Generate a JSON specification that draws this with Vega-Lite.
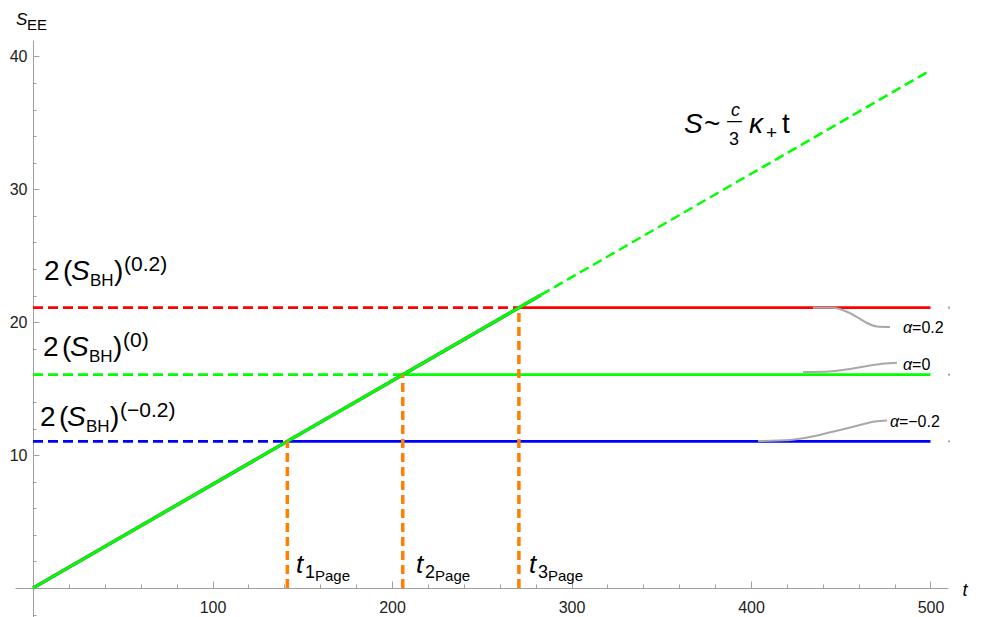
{
  "$schema": "https://vega.github.io/schema/vega-lite/v6.json",
  "width": 933,
  "height": 577,
  "autosize": {"type": "none"},
  "padding": {"left": 15, "top": 40, "right": 35, "bottom": 0},
  "background": "white",
  "config": {"view": {"stroke": null}, "font": "Liberation Sans", "text": {"font": "Liberation Sans", "color": "#000000"}},
  "resolve": {"axis": {"x": "independent", "y": "independent"}},
  "datasets": {
    "levels": [
      {"level": "0.2", "seg": "r-a", "part": "dashed", "t": 0, "S": 21.09},
      {"level": "0.2", "seg": "r-a", "part": "dashed", "t": 270.7, "S": 21.09},
      {"level": "0.2", "seg": "r-b", "part": "solid", "t": 270.7, "S": 21.09},
      {"level": "0.2", "seg": "r-b", "part": "solid", "t": 500, "S": 21.09},
      {"level": "0", "seg": "g-a", "part": "dashed", "t": 0, "S": 16.05},
      {"level": "0", "seg": "g-a", "part": "dashed", "t": 206.0, "S": 16.05},
      {"level": "0", "seg": "g-b", "part": "solid", "t": 206.0, "S": 16.05},
      {"level": "0", "seg": "g-b", "part": "solid", "t": 500, "S": 16.05},
      {"level": "-0.2", "seg": "b-a", "part": "dashed", "t": 0, "S": 11.04},
      {"level": "-0.2", "seg": "b-a", "part": "dashed", "t": 141.7, "S": 11.04},
      {"level": "-0.2", "seg": "b-b", "part": "solid", "t": 141.7, "S": 11.04},
      {"level": "-0.2", "seg": "b-b", "part": "solid", "t": 500, "S": 11.04}
    ],
    "growth": [
      {"seg": "a", "part": "solid", "t": 0, "S": 0},
      {"seg": "a", "part": "solid", "t": 283, "S": 22.05},
      {"seg": "b", "part": "dashed", "t": 283, "S": 22.05},
      {"seg": "b", "part": "dashed", "t": 500, "S": 38.95}
    ],
    "page": [
      {"n": "1", "t": 141.7, "S": 0},
      {"n": "1", "t": 141.7, "S": 11.04},
      {"n": "2", "t": 206.0, "S": 0},
      {"n": "2", "t": 206.0, "S": 16.05},
      {"n": "3", "t": 270.7, "S": 0},
      {"n": "3", "t": 270.7, "S": 21.09}
    ],
    "callouts": [
      {"alpha": "0.2", "t": 434.5, "S": 21.09},
      {"alpha": "0.2", "t": 445.7, "S": 21.09},
      {"alpha": "0.2", "t": 452.4, "S": 20.84},
      {"alpha": "0.2", "t": 459.1, "S": 20.39},
      {"alpha": "0.2", "t": 464.6, "S": 19.94},
      {"alpha": "0.2", "t": 470.2, "S": 19.68},
      {"alpha": "0.2", "t": 477.4, "S": 19.64},
      {"alpha": "0", "t": 429.0, "S": 16.25},
      {"alpha": "0", "t": 444.0, "S": 16.29},
      {"alpha": "0", "t": 455.2, "S": 16.48},
      {"alpha": "0", "t": 466.3, "S": 16.74},
      {"alpha": "0", "t": 474.7, "S": 16.89},
      {"alpha": "0", "t": 481.3, "S": 16.95},
      {"alpha": "-0.2", "t": 403.9, "S": 11.06},
      {"alpha": "-0.2", "t": 421.7, "S": 11.14},
      {"alpha": "-0.2", "t": 435.7, "S": 11.44},
      {"alpha": "-0.2", "t": 449.6, "S": 11.89},
      {"alpha": "-0.2", "t": 460.7, "S": 12.26},
      {"alpha": "-0.2", "t": 469.1, "S": 12.53},
      {"alpha": "-0.2", "t": 475.8, "S": 12.60}
    ],
    "ends": [
      {"t": 510.3, "S": 21.09},
      {"t": 510.3, "S": 16.05},
      {"t": 510.3, "S": 11.04}
    ],
    "bh": [
      {"t": 6.13, "S": 23.18, "sup": "(0.2)"},
      {"t": 5.57, "S": 17.46, "sup": "(0)"},
      {"t": 3.9, "S": 12.19, "sup": "(−0.2)"}
    ],
    "fit": [{"t": 362.7, "S": 34.24}],
    "pagelab": [
      {"t": 146.5, "S": 1.13, "n": "1"},
      {"t": 213.4, "S": 1.13, "n": "2"},
      {"t": 276.3, "S": 1.13, "n": "3"}
    ],
    "alphalab": [
      {"t": 484.7, "S": 19.19, "v": "=0.2"},
      {"t": 484.7, "S": 16.40, "v": "=0"},
      {"t": 477.4, "S": 12.11, "v": "=−0.2"}
    ],
    "ylab": [{"t": -9.47, "S": 42.36}]
  },
  "layer": [
    {
      "data": {"name": "levels"},
      "mark": {"type": "line", "strokeWidth": 2.8},
      "encoding": {
        "x": {
          "field": "t", "type": "quantitative",
          "scale": {"domain": [-10.03, 509.75], "nice": false, "zero": false},
          "axis": {
            "orient": "bottom",
            "values": [20, 40, 60, 80, 100, 120, 140, 160, 180, 200, 220, 240, 260, 280, 300, 320, 340, 360, 380, 400, 420, 440, 460, 480, 500],
            "offset": -29,
            "grid": false,
            "labels": false,
            "domainColor": "#a0a0a0", "domainWidth": 1,
            "tickColor": "#a0a0a0", "tickWidth": 1,
            "tickSize": {"condition": {"test": "datum.value % 100 === 0", "value": -7}, "value": -4},
            "title": "t", "titleFont": "Liberation Sans", "titleFontStyle": "italic", "titleFontWeight": "normal",
            "titleFontSize": 18, "titleColor": "#000000",
            "titleX": 947, "titleY": 7, "titleAlign": "left", "titleBaseline": "alphabetic"
          }
        },
        "y": {
          "field": "S", "type": "quantitative",
          "scale": {"domain": [-2.18, 41.23], "nice": false, "zero": false},
          "axis": {
            "orient": "left",
            "values": [-2, 2, 4, 6, 8, 10, 12, 14, 16, 18, 20, 22, 24, 26, 28, 30, 32, 34, 36, 38, 40],
            "offset": -18,
            "grid": false,
            "labels": false,
            "domainColor": "#a0a0a0", "domainWidth": 1,
            "tickColor": "#a0a0a0", "tickWidth": 1,
            "tickSize": {"condition": {"test": "datum.value % 10 === 0", "value": -6}, "value": -3},
            "title": null
          }
        },
        "color": {"field": "level", "type": "nominal", "scale": {"domain": ["0.2", "0", "-0.2"], "range": ["#ff0000", "#00ff00", "#0000ff"]}, "legend": null},
        "strokeDash": {"field": "part", "type": "nominal", "scale": {"domain": ["solid", "dashed"], "range": [[1, 0], [10, 5]]}, "legend": null},
        "detail": {"field": "seg"}
      }
    },
    {
      "data": {"name": "growth"},
      "transform": [{"filter": "datum.part === 'solid'"}],
      "mark": {"type": "line", "strokeWidth": 3.6, "color": "#3a9a3a"},
      "encoding": {
        "x": {
          "field": "t", "type": "quantitative",
          "axis": {
            "orient": "bottom",
            "values": [100, 200, 300, 400, 500],
            "offset": -29,
            "grid": false,
            "domain": false,
            "ticks": false,
            "tickSize": 0,
            "labelPadding": 11,
            "labelFontSize": 16, "labelColor": "#222222", "labelFont": "Liberation Sans",
            "labelFlush": false,
            "title": null
          }
        },
        "y": {
          "field": "S", "type": "quantitative",
          "axis": {
            "orient": "left",
            "values": [10, 20, 30, 40],
            "offset": -18,
            "grid": false,
            "domain": false,
            "ticks": false,
            "tickSize": 0,
            "labelPadding": 6,
            "labelFontSize": 16, "labelColor": "#222222", "labelFont": "Liberation Sans",
            "labelFlush": false,
            "title": null
          }
        },
        "detail": {"field": "seg"}
      }
    },
    {
      "data": {"name": "growth"},
      "mark": {"type": "line", "strokeWidth": 2.5, "color": "#00ff00"},
      "encoding": {
        "x": {"field": "t", "type": "quantitative", "axis": null},
        "y": {"field": "S", "type": "quantitative", "axis": null},
        "strokeDash": {"field": "part", "type": "nominal", "legend": null},
        "detail": {"field": "seg"}
      }
    },
    {
      "data": {"name": "page"},
      "mark": {"type": "line", "strokeWidth": 3.5, "color": "#ff8000", "strokeDash": [9, 5]},
      "encoding": {
        "x": {"field": "t", "type": "quantitative", "axis": null},
        "y": {"field": "S", "type": "quantitative", "axis": null},
        "detail": {"field": "n"},
        "order": {"field": "S", "type": "quantitative"}
      }
    },
    {
      "data": {"name": "callouts"},
      "mark": {"type": "line", "strokeWidth": 2, "color": "#a8a8a8", "interpolate": "monotone"},
      "encoding": {
        "x": {"field": "t", "type": "quantitative", "axis": null},
        "y": {"field": "S", "type": "quantitative", "axis": null},
        "detail": {"field": "alpha"}
      }
    },
    {
      "data": {"name": "ends"},
      "mark": {"type": "point", "filled": true, "size": 5, "color": "#a0a0a0", "opacity": 1},
      "encoding": {
        "x": {"field": "t", "type": "quantitative", "axis": null},
        "y": {"field": "S", "type": "quantitative", "axis": null}
      }
    },
    {"data": {"name": "bh"}, "mark": {"type": "text", "text": "2", "fontSize": 28, "align": "left", "baseline": "alphabetic", "dx": 0},
     "encoding": {"x": {"field": "t", "type": "quantitative", "axis": null}, "y": {"field": "S", "type": "quantitative", "axis": null}}},
    {"data": {"name": "bh"}, "mark": {"type": "text", "text": "(", "fontSize": 28, "align": "left", "baseline": "alphabetic", "dx": 19},
     "encoding": {"x": {"field": "t", "type": "quantitative", "axis": null}, "y": {"field": "S", "type": "quantitative", "axis": null}}},
    {"data": {"name": "bh"}, "mark": {"type": "text", "text": "S", "fontSize": 28, "fontStyle": "italic", "align": "left", "baseline": "alphabetic", "dx": 27},
     "encoding": {"x": {"field": "t", "type": "quantitative", "axis": null}, "y": {"field": "S", "type": "quantitative", "axis": null}}},
    {"data": {"name": "bh"}, "mark": {"type": "text", "text": "BH", "fontSize": 17, "align": "left", "baseline": "alphabetic", "dx": 46, "dy": 6},
     "encoding": {"x": {"field": "t", "type": "quantitative", "axis": null}, "y": {"field": "S", "type": "quantitative", "axis": null}}},
    {"data": {"name": "bh"}, "mark": {"type": "text", "text": ")", "fontSize": 28, "align": "left", "baseline": "alphabetic", "dx": 70},
     "encoding": {"x": {"field": "t", "type": "quantitative", "axis": null}, "y": {"field": "S", "type": "quantitative", "axis": null}}},
    {"data": {"name": "bh"}, "mark": {"type": "text", "fontSize": 21, "align": "left", "baseline": "alphabetic", "dx": 80, "dy": -9},
     "encoding": {"x": {"field": "t", "type": "quantitative", "axis": null}, "y": {"field": "S", "type": "quantitative", "axis": null}, "text": {"field": "sup"}}},
    {"data": {"name": "fit"}, "mark": {"type": "text", "text": "S", "fontSize": 28, "fontStyle": "italic", "align": "left", "baseline": "alphabetic", "dx": 0},
     "encoding": {"x": {"field": "t", "type": "quantitative", "axis": null}, "y": {"field": "S", "type": "quantitative", "axis": null}}},
    {"data": {"name": "fit"}, "mark": {"type": "text", "text": "~", "fontSize": 28, "align": "left", "baseline": "alphabetic", "dx": 20},
     "encoding": {"x": {"field": "t", "type": "quantitative", "axis": null}, "y": {"field": "S", "type": "quantitative", "axis": null}}},
    {"data": {"name": "fit"}, "mark": {"type": "text", "text": "c", "fontSize": 18, "fontStyle": "italic", "align": "left", "baseline": "alphabetic", "dx": 47, "dy": -17},
     "encoding": {"x": {"field": "t", "type": "quantitative", "axis": null}, "y": {"field": "S", "type": "quantitative", "axis": null}}},
    {"data": {"name": "fit"}, "mark": {"type": "text", "text": "―", "font": "DejaVu Sans", "fontSize": 15, "color": "#000000", "align": "left", "baseline": "alphabetic", "dx": 43, "dy": -7},
     "encoding": {"x": {"field": "t", "type": "quantitative", "axis": null}, "y": {"field": "S", "type": "quantitative", "axis": null}}},
    {"data": {"name": "fit"}, "mark": {"type": "text", "text": "3", "fontSize": 18, "align": "left", "baseline": "alphabetic", "dx": 45, "dy": 12},
     "encoding": {"x": {"field": "t", "type": "quantitative", "axis": null}, "y": {"field": "S", "type": "quantitative", "axis": null}}},
    {"data": {"name": "fit"}, "mark": {"type": "text", "text": "κ", "fontSize": 28, "fontStyle": "italic", "align": "left", "baseline": "alphabetic", "dx": 65},
     "encoding": {"x": {"field": "t", "type": "quantitative", "axis": null}, "y": {"field": "S", "type": "quantitative", "axis": null}}},
    {"data": {"name": "fit"}, "mark": {"type": "text", "text": "+", "fontSize": 19, "align": "left", "baseline": "alphabetic", "dx": 82, "dy": 6},
     "encoding": {"x": {"field": "t", "type": "quantitative", "axis": null}, "y": {"field": "S", "type": "quantitative", "axis": null}}},
    {"data": {"name": "fit"}, "mark": {"type": "text", "text": "t", "fontSize": 28, "align": "left", "baseline": "alphabetic", "dx": 98},
     "encoding": {"x": {"field": "t", "type": "quantitative", "axis": null}, "y": {"field": "S", "type": "quantitative", "axis": null}}},
    {"data": {"name": "pagelab"}, "mark": {"type": "text", "text": "t", "fontSize": 26, "fontStyle": "italic", "align": "left", "baseline": "alphabetic", "dx": 0},
     "encoding": {"x": {"field": "t", "type": "quantitative", "axis": null}, "y": {"field": "S", "type": "quantitative", "axis": null}}},
    {"data": {"name": "pagelab"}, "mark": {"type": "text", "fontSize": 18, "align": "left", "baseline": "alphabetic", "dx": 9, "dy": 5},
     "encoding": {"x": {"field": "t", "type": "quantitative", "axis": null}, "y": {"field": "S", "type": "quantitative", "axis": null}, "text": {"field": "n"}}},
    {"data": {"name": "pagelab"}, "mark": {"type": "text", "text": "Page", "fontSize": 15, "align": "left", "baseline": "alphabetic", "dx": 19, "dy": 8},
     "encoding": {"x": {"field": "t", "type": "quantitative", "axis": null}, "y": {"field": "S", "type": "quantitative", "axis": null}}},
    {"data": {"name": "alphalab"}, "mark": {"type": "text", "text": "α", "fontSize": 16, "fontStyle": "italic", "align": "left", "baseline": "alphabetic", "dx": 0},
     "encoding": {"x": {"field": "t", "type": "quantitative", "axis": null}, "y": {"field": "S", "type": "quantitative", "axis": null}}},
    {"data": {"name": "alphalab"}, "mark": {"type": "text", "fontSize": 16, "align": "left", "baseline": "alphabetic", "dx": 9},
     "encoding": {"x": {"field": "t", "type": "quantitative", "axis": null}, "y": {"field": "S", "type": "quantitative", "axis": null}, "text": {"field": "v"}}},
    {"data": {"name": "ylab"}, "mark": {"type": "text", "text": "S", "fontSize": 17, "fontStyle": "italic", "align": "left", "baseline": "alphabetic", "dx": 0},
     "encoding": {"x": {"field": "t", "type": "quantitative", "axis": null}, "y": {"field": "S", "type": "quantitative", "axis": null}}},
    {"data": {"name": "ylab"}, "mark": {"type": "text", "text": "EE", "fontSize": 15, "align": "left", "baseline": "alphabetic", "dx": 11, "dy": 5},
     "encoding": {"x": {"field": "t", "type": "quantitative", "axis": null}, "y": {"field": "S", "type": "quantitative", "axis": null}}}
  ]
}
